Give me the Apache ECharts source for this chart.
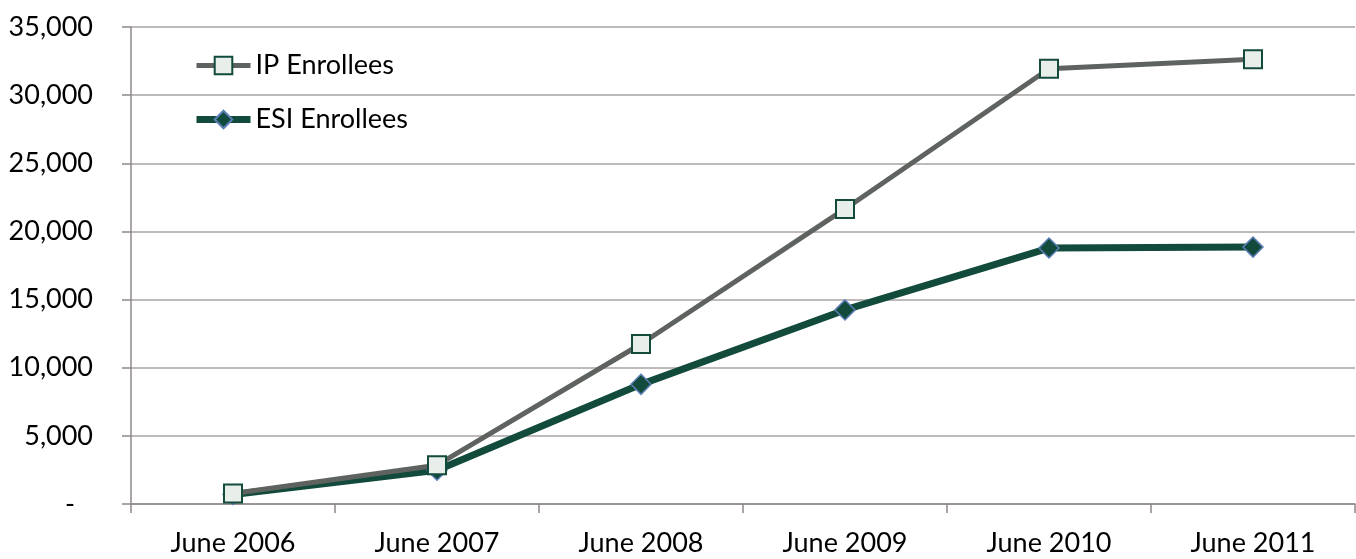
<!DOCTYPE html>
<html>
<head>
<meta charset="utf-8">
<script src="https://cdn.jsdelivr.net/npm/echarts@6/dist/echarts.min.js"></script>
<style>
  html, body { margin: 0; padding: 0; background: #fff; }
  #chart { width: 1356px; height: 559px; }
</style>
</head>
<body>
<div id="chart"></div>
<script>
// Enrollment counts by year
const categories = ['June 2006', 'June 2007', 'June 2008', 'June 2009', 'June 2010', 'June 2011'];
const ipEnrollees = [770, 2850, 11740, 21650, 31940, 32630];
const esiEnrollees = [700, 2480, 8780, 14240, 18780, 18850];
const seriesNames = ['IP Enrollees', 'ESI Enrollees'];

const FONT = 'Lato, "Open Sans", sans-serif';
const AXIS_GREY = '#8e8888';
const GRID_GREY = '#a9a3a3';
const IP_LINE = '#5e6360';
const ESI_LINE = '#124a3c';
const IP_WIDTH = 5;
const ESI_WIDTH = 7;

const chart = echarts.init(document.getElementById('chart'), null, { renderer: 'canvas' });

chart.setOption({
  animation: false,
  backgroundColor: '#ffffff',
  grid: { left: 131, right: 1, top: 27, bottom: 55, containLabel: false },
  legend: {
    data: [
      { name: seriesNames[0], lineStyle: { width: IP_WIDTH, color: IP_LINE } },
      { name: seriesNames[1], lineStyle: { width: ESI_WIDTH, color: ESI_LINE } }
    ],
    orient: 'vertical',
    left: 193,
    top: 52,
    padding: 0,
    itemWidth: 54,
    itemHeight: 22,
    itemGap: 27,
    textStyle: { fontFamily: FONT, fontSize: 27, color: '#000' }
  },
  xAxis: {
    type: 'category',
    data: categories,
    boundaryGap: true,
    axisLine: { lineStyle: { color: AXIS_GREY, width: 1.5 } },
    axisTick: { show: true, length: 9, interval: 0, lineStyle: { color: AXIS_GREY, width: 1.5 } },
    axisLabel: { margin: 26, color: '#000', fontFamily: FONT, fontSize: 27, interval: 0 },
    splitLine: { show: false }
  },
  yAxis: {
    type: 'value',
    min: 0,
    max: 35000,
    interval: 5000,
    axisLine: { show: true, lineStyle: { color: AXIS_GREY, width: 1.5 } },
    axisTick: { show: true, length: 9, lineStyle: { color: AXIS_GREY, width: 1.5 } },
    axisLabel: {
      margin: 38,
      color: '#000',
      fontFamily: FONT,
      fontSize: 27,
      formatter: function (v) {
        return v === 0 ? '{dash|-}' : v.toLocaleString('en-US');
      },
      rich: {
        dash: { fontFamily: FONT, fontSize: 27, color: '#000', padding: [0, 18, 0, 0] }
      }
    },
    splitLine: { show: true, lineStyle: { color: GRID_GREY, width: 1.5 } }
  },
  series: [
    {
      name: seriesNames[0],
      type: 'line',
      data: ipEnrollees,
      z: 4,
      symbol: 'rect',
      symbolSize: 18,
      lineStyle: { color: IP_LINE, width: IP_WIDTH },
      itemStyle: { color: '#e8eeea', borderColor: '#124a3c', borderWidth: 2 },
      emphasis: { disabled: true }
    },
    {
      name: seriesNames[1],
      type: 'line',
      data: esiEnrollees,
      z: 3,
      symbol: 'diamond',
      symbolSize: 20,
      lineStyle: { color: ESI_LINE, width: ESI_WIDTH },
      itemStyle: { color: '#124a3c', borderColor: '#5b7db5', borderWidth: 1.5 },
      emphasis: { disabled: true }
    }
  ]
});
</script>
</body>
</html>
